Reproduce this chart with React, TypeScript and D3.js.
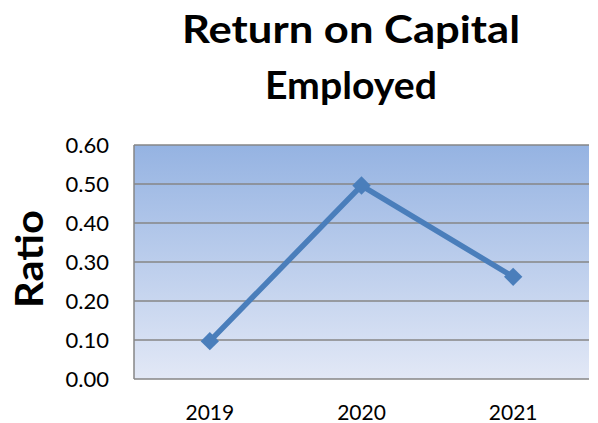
import React from "react";
import * as d3 from "d3";

const categories = ["2019", "2020", "2021"];
const values = [0.097, 0.496, 0.262];
const yTicks = [0, 0.1, 0.2, 0.3, 0.4, 0.5, 0.6];
const titleLines = ["Return on Capital", "Employed"];
const yLabel = "Ratio";

export default function App() {
  const W = 598, H = 423;
  const left = 134, right = 589, top = 145, bottom = 379;
  const x = d3.scaleBand().domain(categories).range([left, right]).padding(0);
  const y = d3.scaleLinear().domain([0, 0.6]).range([bottom, top]);
  const cx = (c: string) => (x(c) as number) + x.bandwidth() / 2;
  const line = d3.line<number>().x((_, i) => cx(categories[i])).y((v) => y(v));
  const marker = d3.symbol().type(d3.symbolSquare).size(169)();
  const font = "Lato, Calibri, 'Open Sans', sans-serif";
  const titleLens = [338, 172];
  const titleBase = [43, 99];
  return (
    <svg width={W} height={H} style={{ position: "absolute", left: 0, top: 0 }}>
      <defs>
        <linearGradient id="bg" x1="0" y1="0" x2="0" y2="1">
          <stop offset="0" stopColor="#95b3e2" />
          <stop offset="1" stopColor="#e2e8f6" />
        </linearGradient>
      </defs>
      <rect x={0} y={0} width={W} height={H} fill="#fff" />
      {titleLines.map((t, i) => (
        <text key={t} x={351} y={titleBase[i]} textAnchor="middle" fontFamily={font}
          fontWeight="bold" fontSize={38} fill="#000" textLength={titleLens[i]}
          lengthAdjust="spacingAndGlyphs">{t}</text>
      ))}
      <rect x={left} y={top} width={right - left} height={bottom - top} fill="url(#bg)" />
      {yTicks.map((t) => (
        <g key={t}>
          <line x1={left} x2={right} y1={y(t)} y2={y(t)} stroke="#868686" strokeWidth={1.5} />
          <text x={109} y={y(t)} dy="0.36em" textAnchor="end" fontFamily={font} fontSize={22} fill="#000">
            {t.toFixed(2)}
          </text>
        </g>
      ))}
      <line x1={left} x2={left} y1={top} y2={bottom} stroke="#868686" strokeWidth={1.5} />
      {categories.map((c) => (
        <text key={c} x={cx(c)} y={420} textAnchor="middle" fontFamily={font} fontSize={21} fill="#000">
          {c}
        </text>
      ))}
      <text transform={`translate(43,259) rotate(-90)`} textAnchor="middle" fontFamily={font}
        fontWeight="bold" fontSize={38} fill="#000" textLength={98} lengthAdjust="spacingAndGlyphs">{yLabel}</text>
      <path d={line(values) || ""} fill="none" stroke="#4a7ebb" strokeWidth={5.5} strokeLinejoin="round" />
      {values.map((v, i) => (
        <path key={i} d={marker || ""} transform={`translate(${cx(categories[i])},${y(v)}) rotate(45)`} fill="#4a7ebb" />
      ))}
    </svg>
  );
}
